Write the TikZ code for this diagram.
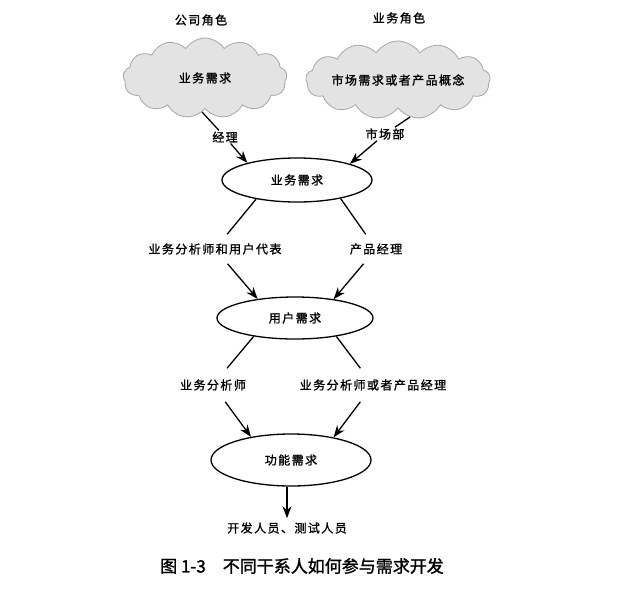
\documentclass[tikz,border=0pt]{standalone}
\usepackage{fontspec}
\setmainfont{Noto Sans CJK SC}[LetterSpace=12, FakeBold=1.3]
\newfontfamily\capfont{Noto Sans CJK SC}[FakeBold=1.5]
\usepackage{tikz}
\usetikzlibrary{positioning}
\usetikzlibrary{arrows.meta}
\usetikzlibrary{shapes.symbols}
\usetikzlibrary{shapes.geometric}

\begin{document}
\begin{tikzpicture}[x=1pt, y=-1pt,
cloudnode/.style={cloud, cloud puffs=13, cloud puff arc=115, cloud ignores aspect, draw=gray!70, fill=gray!22, line width=0.8pt, inner sep=0pt, font=\fontsize{12}{14}\selectfont},
ellipsenode/.style={ellipse, draw=black, fill=white, line width=1.3pt, inner sep=0pt, font=\fontsize{12}{14}\selectfont},
labelnode/.style={inner xsep=3pt, inner ysep=9pt, font=\fontsize{12}{14}\selectfont},
linkline/.style={line width=1.3pt},
>={Stealth[length=12pt,width=9pt]},
]
\useasboundingbox (0,0) rectangle (620,600);

%Nodes
\node[labelnode, inner ysep=3pt]  (corp)  at (201,20)  {公司角色};
\node[labelnode, inner ysep=3pt]  (biz)   at (399,18)  {业务角色};
\node[cloudnode, minimum width=164pt, minimum height=80pt] (cloud1) at (205,78) {业务需求};
\node[cloudnode, minimum width=170pt, minimum height=78pt] (cloud2) at (398,80) {市场需求或者产品概念};

\node[labelnode, inner ysep=1pt]  (mgr)   at (225,137) {经理};
\node[labelnode, inner ysep=1pt]  (mkt)   at (385,134) {市场部};
\node[ellipsenode, minimum width=150pt, minimum height=44pt] (bizreq) at (297,180) {业务需求};

\node[labelnode]  (bauser) at (215,249) {业务分析师和用户代表};
\node[labelnode]  (pm)     at (376,249) {产品经理};
\node[ellipsenode, minimum width=156pt, minimum height=42pt] (userreq) at (295,318) {用户需求};

\node[labelnode, inner ysep=11pt]  (ba)     at (213,385) {业务分析师};
\node[labelnode, inner ysep=11pt]  (bapm)   at (373,385) {业务分析师或者产品经理};
\node[ellipsenode, minimum width=160pt, minimum height=52pt] (funcreq) at (291,460) {功能需求};

\node[labelnode, inner ysep=4pt]  (dev)    at (287,528) {开发人员、测试人员};
\node[font=\capfont\fontsize{17}{20}\selectfont] (caption) at (302,566) {图 1-3\quad 不同干系人如何参与需求开发};

%Lines
\draw[linkline] (cloud1.-95) -- (mgr);
\draw[linkline, ->] (mgr) -- (bizreq.161);
\draw[linkline] (cloud2.-72) -- (mkt);
\draw[linkline, ->] (mkt) -- (bizreq.17);

\draw[linkline] (bizreq.205) -- (bauser);
\draw[linkline, ->] (bauser) -- (userreq.153);
\draw[linkline] (bizreq.-23) -- (pm);
\draw[linkline, ->] (pm) -- (userreq.26);

\draw[linkline] (userreq.204) -- (ba);
\draw[linkline, ->] (ba) -- (funcreq.150);
\draw[linkline] (userreq.-24) -- (bapm);
\draw[linkline, ->] (bapm) -- (funcreq.28);

\draw[linkline, ->] (dev.north |- funcreq.south) -- (dev.north);
\end{tikzpicture}
\end{document}
